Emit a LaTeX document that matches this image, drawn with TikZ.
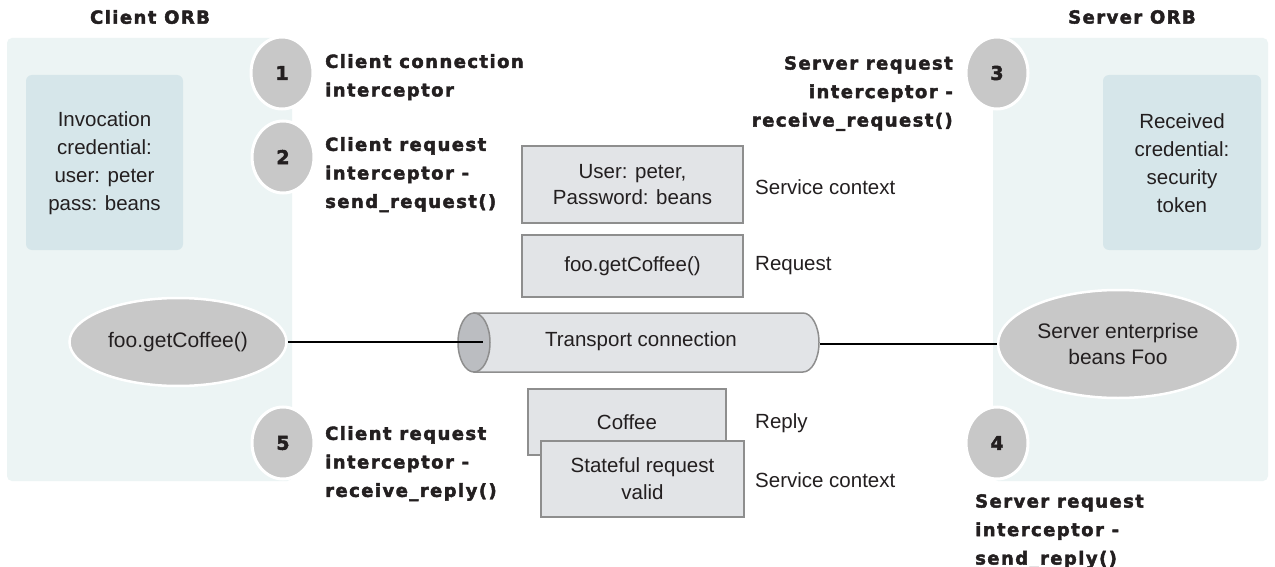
\documentclass[tikz,border=0pt]{standalone}
\usepackage{fontspec}
\setmainfont{Liberation Sans}
\newfontfamily\hfont[LetterSpace=8.0,FakeBold=2.4]{DejaVu Sans Bold}
\usetikzlibrary{shapes.geometric}
\definecolor{panelc}{HTML}{ECF4F4}
\definecolor{innerc}{HTML}{D6E6EA}
\definecolor{circc}{HTML}{C8C8C8}
\definecolor{boxc}{HTML}{E2E4E7}
\definecolor{boxline}{HTML}{8E8E8E}
\definecolor{capc}{HTML}{BBBDC1}
\definecolor{txt}{HTML}{231F20}
\tikzset{
  panel/.style={fill=panelc, draw=none, rounded corners=5pt},
  inner/.style={fill=innerc, draw=none, rounded corners=6pt},
  numc/.style={ellipse, fill=circc, draw=white, line width=3pt, minimum width=62pt, minimum height=72pt, inner sep=0pt, text=txt, font=\hfont\fontsize{19}{19}\selectfont},
  bubble/.style={ellipse, fill=circc, draw=white, line width=2.5pt, inner sep=0pt, text=txt, align=center, font=\fontsize{21}{26}\selectfont},
  msgbox/.style={rectangle, fill=boxc, draw=boxline, line width=1.5pt, inner sep=0pt, text=txt, align=center, font=\fontsize{20.5}{26}\selectfont},
  body/.style={text=txt, align=center, inner sep=0pt, font=\fontsize{20.5}{28}\selectfont},
  side/.style={text=txt, inner sep=0pt, anchor=west, font=\fontsize{20.5}{25}\selectfont},
  blabel/.style={text=txt, inner sep=0pt, font=\hfont\fontsize{18}{28.5}\selectfont},
  wire/.style={draw=black, line width=1.5pt}
}
\begin{document}
\begin{tikzpicture}[x=1pt,y=-1pt]
\useasboundingbox (0,0) rectangle (1275,567);
\fill[white] (0,0) rectangle (1275,567);

% panels
\path[panel] (7,38) rectangle (292,481);
\path[panel] (993,38) rectangle (1268,481);
\path[inner] (26,75) rectangle (183,250);
\path[inner] (1103,75) rectangle (1261,250);

\node[blabel, anchor=center] (cliorb) at (150,17) {Client ORB};
\node[blabel, anchor=center] (srvorb) at (1132,17) {Server ORB};

\node[body] (invcred) at (104.5,163) {Invocation\\credential:\\user: peter\\pass: beans};
\node[body] (reccred) at (1182,163) {Received\\credential:\\security\\token};

% ellipses
\node[bubble, minimum width=217pt, minimum height=88pt] (foo) at (178,342) {foo.getCoffee()};
\node[bubble, minimum width=240pt, minimum height=108pt] (ejb) at (1118,344) {Server enterprise\\beans Foo};

% cylinder
\filldraw[fill=boxc, draw=boxline, line width=1.5pt]
  (474,313) -- (803,313) .. controls (811.8,313) and (819,326.2) .. (819,342.5)
  .. controls (819,358.8) and (811.8,372) .. (803,372) -- (474,372) -- cycle;
\filldraw[fill=capc, draw=boxline, line width=1.5pt] (474,342.5) ellipse [x radius=16pt, y radius=29.5pt];
\node[body] (tc) at (641,341) {Transport connection};
\coordinate (capL) at (483,342);
\coordinate (capR) at (820,344);
\draw[wire] (foo.east) -- (capL);
\draw[wire] (capR) -- (ejb.west);

% message boxes
\node[msgbox, minimum width=221pt, minimum height=77pt] (userbox) at (632.5,184.5) {User: peter,\\Password: beans};
\node[msgbox, minimum width=221pt, minimum height=62pt] (reqbox) at (632.5,266) {foo.getCoffee()};
\node[msgbox, minimum width=198pt, minimum height=66pt] (coffee) at (627,422) {Coffee};
\node[msgbox, minimum width=203pt, minimum height=76pt, font=\fontsize{20.5}{27}\selectfont] (stateful) at (642.5,479) {Stateful request\\valid};

\node[side] (sc1) at (755,187) {Service context};
\node[side] (rq) at (755,266) {Request};
\node[side] (rp) at (755,423) {Reply};
\node[side] (sc2) at (755,480) {Service context};

% numbered circles
\node[numc] (n1) at (282,73) {1};
\node[numc] (n2) at (283,157) {2};
\node[numc] (n5) at (283,443) {5};
\node[numc] (n3) at (997,73) {3};
\node[numc] (n4) at (997,443) {4};

% interceptor labels
\node[blabel, anchor=north west, align=left] (l1) at (325,54) {Client connection\\interceptor};
\node[blabel, anchor=north west, align=left] (l2) at (325,137) {Client request\\interceptor -\\send\_request()};
\node[blabel, anchor=north west, align=left] (l5) at (325,426) {Client request\\interceptor -\\receive\_reply()};
\node[blabel, anchor=north east, align=right] (l3) at (953,56) {Server request\\interceptor -\\receive\_request()};
\node[blabel, anchor=north west, align=left] (l4) at (975,494) {Server request\\interceptor -\\send\_reply()};
\end{tikzpicture}
\end{document}
